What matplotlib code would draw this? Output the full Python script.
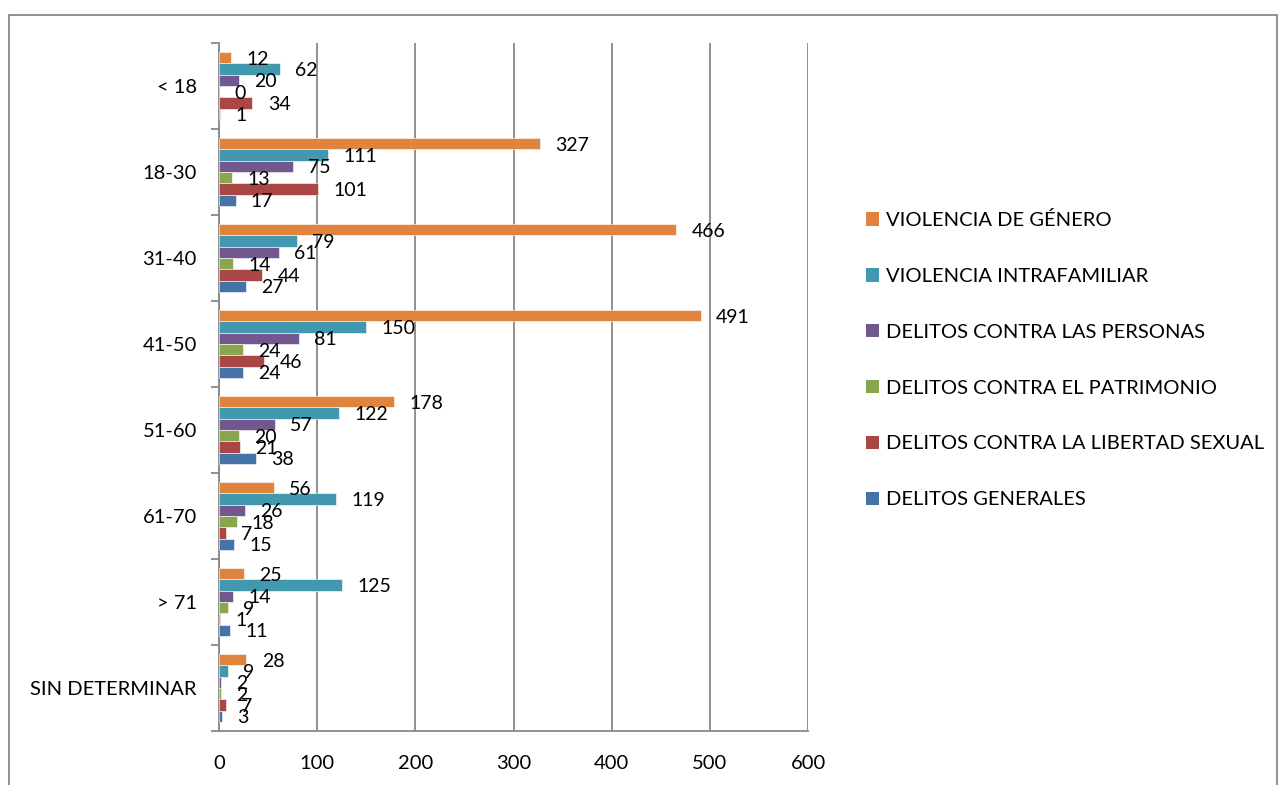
import numpy as np
import matplotlib
matplotlib.use('Agg')
import matplotlib.pyplot as plt
from matplotlib.patches import Rectangle, Patch

plt.rcParams['font.family'] = ['Lato', 'DejaVu Sans']

# categorias de edad (de arriba a abajo)
categories = ['< 18', '18-30', '31-40', '41-50', '51-60', '61-70', '> 71', 'SIN DETERMINAR']

# series (orden dentro de cada grupo, de arriba a abajo)
series_names = ['VIOLENCIA DE GÉNERO', 'VIOLENCIA INTRAFAMILIAR', 'DELITOS CONTRA LAS PERSONAS',
                'DELITOS CONTRA EL PATRIMONIO', 'DELITOS CONTRA LA LIBERTAD SEXUAL', 'DELITOS GENERALES']
violencia_genero = [12, 327, 466, 491, 178, 56, 25, 28]
violencia_intrafamiliar = [62, 111, 79, 150, 122, 119, 125, 9]
delitos_personas = [20, 75, 61, 81, 57, 26, 14, 2]
delitos_patrimonio = [0, 13, 14, 24, 20, 18, 9, 2]
delitos_libertad_sexual = [34, 101, 44, 46, 21, 7, 1, 7]
delitos_generales = [1, 17, 27, 24, 38, 15, 11, 3]

series_values = [violencia_genero, violencia_intrafamiliar, delitos_personas,
                 delitos_patrimonio, delitos_libertad_sexual, delitos_generales]
colors = ['#E0843D', '#4198AF', '#72588F', '#89A54E', '#AA4643', '#4572A7']

fig = plt.figure(figsize=(12.81, 7.85), dpi=100)
ax = fig.add_axes([219 / 1281, 1 - 731 / 785, (808 - 219) / 1281, (731 - 43) / 785])

# marco exterior del grafico
fig.patches.append(Rectangle((9 / 1281, -0.05), (1277 - 9) / 1281, 1.05 - 15 / 785,
                             transform=fig.transFigure, fill=False, edgecolor='#888888', lw=1.3))

n = len(series_names)
bar_h = 0.132
y = np.arange(len(categories))
handles = []
for j, (name, vals, c) in enumerate(zip(series_names, series_values, colors)):
    pos = y - n * bar_h / 2 + (j + 0.5) * bar_h
    ax.barh(pos, vals, height=bar_h, color=c, edgecolor='white', linewidth=0.4, zorder=3)
    for p, v in zip(pos, vals):
        ax.annotate(str(v), (v, p), xytext=(11, -1), textcoords='offset points',
                    ha='left', va='center', fontsize=14, color='black', zorder=4)
    handles.append(Patch(facecolor=c, label=name))

ax.set_xlim(0, 600)
ax.set_ylim(len(categories) - 0.5, -0.5)
ax.set_xticks(range(0, 601, 100))
ax.grid(axis='x', color='#888888', lw=1.3, zorder=0)
ax.set_axisbelow(True)
for s in ['top', 'right']:
    ax.spines[s].set_visible(False)
for s in ['left', 'bottom']:
    ax.spines[s].set_color('#888888')
    ax.spines[s].set_linewidth(1.3)

ax.set_yticks(y)
ax.set_yticklabels(categories, fontsize=14.5)
ax.set_yticks(np.arange(len(categories) + 1) - 0.5, minor=True)
ax.tick_params(axis='y', which='major', length=0, pad=16)
ax.tick_params(axis='y', which='minor', length=6, width=1.3, color='#888888', direction='out')
ax.tick_params(axis='x', length=0, pad=17, labelsize=14.5)

fig.legend(handles=handles, loc='upper left', bbox_to_anchor=(866 / 1281, 1 - 211 / 785),
           frameon=False, fontsize=14.5, handlelength=0.65, handleheight=0.65,
           handletextpad=0.35, labelspacing=1.93, borderpad=0, borderaxespad=0)

plt.savefig('out.png', dpi=100)
